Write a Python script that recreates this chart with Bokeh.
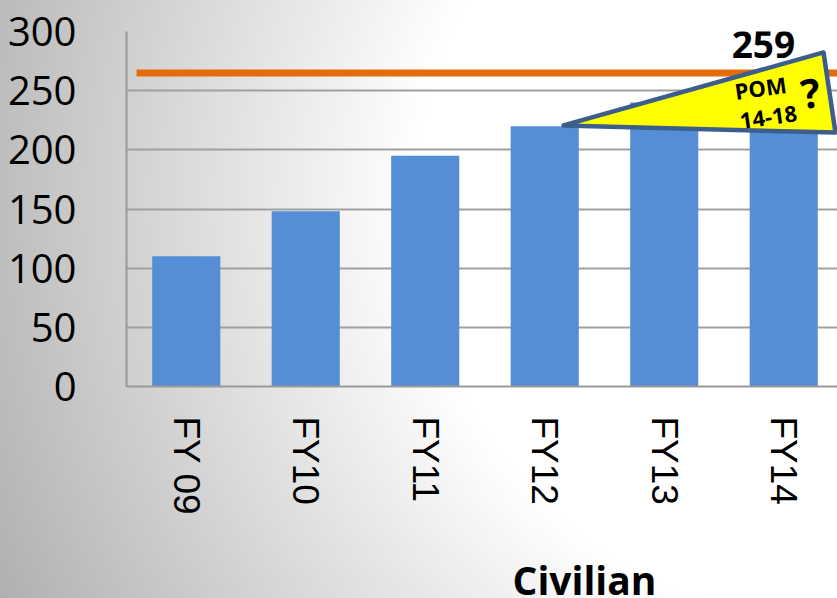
import numpy as np
from bokeh.plotting import figure
from bokeh.layouts import column
from bokeh.models import Range1d, FixedTicker, Label, Legend, LegendItem
from bokeh.embed import file_html
from bokeh.resources import INLINE

# ---- data ----
categories = ["FY 09", "FY10", "FY11", "FY12", "FY13", "FY14"]
civilian = [110, 148, 195, 220, 240, 250]
series_name = "Civilian"
target_value = 265
target_label = "259"
y_ticks = [0, 50, 100, 150, 200, 250, 300]
pom_x = [3.657, 5.833, 5.933]
pom_y = [220.6, 282.3, 214.6]
target_x = [0.084, 5.95]

x_pos = [i + 0.5 for i in range(len(categories))]

BAR_COLOR = "#558ED5"
GRAD = "#ffffff 0px, #ffffff 420px, #b0b0b0 927px"

# ---------------- main chart ----------------
p = figure(width=837, height=548,
           x_range=Range1d(0, 5.95), y_range=Range1d(0, 300),
           output_backend="svg", toolbar_location=None,
           min_border_left=126, min_border_right=0,
           min_border_top=31, min_border_bottom=162)

p.styles = {"background": "radial-gradient(circle at 837px 200px, " + GRAD + ")"}
p.border_fill_alpha = 0
p.background_fill_alpha = 0
p.outline_line_color = None

bars = p.vbar(x=x_pos, top=civilian, width=0.57, fill_color=BAR_COLOR, line_color=None)

p.line(target_x, [target_value] * 2, line_color="#E46C0A", line_width=7)

p.patch(pom_x, pom_y, fill_color="#FFFF00", line_color="#3B5E8C",
        line_width=4.5, line_join="round")

ang = np.deg2rad(8)
p.add_layout(Label(x=5.33, y=289, text=target_label, text_font="Open Sans",
                   text_font_style="bold", text_font_size="37px",
                   text_align="center", text_baseline="middle", text_color="black"))
p.add_layout(Label(x=5.305, y=252.7, text="POM", text_font="Open Sans", angle=ang,
                   text_font_style="bold", text_font_size="22px",
                   text_align="center", text_baseline="middle", text_color="black"))
p.add_layout(Label(x=5.372, y=227.3, text="14-18", text_font="Open Sans", angle=ang,
                   text_font_style="bold", text_font_size="22px",
                   text_align="center", text_baseline="middle", text_color="black"))
p.add_layout(Label(x=5.724, y=248.5, text="?", text_font="Open Sans", angle=ang,
                   text_font_style="bold", text_font_size="40px",
                   text_align="center", text_baseline="middle", text_color="black"))

p.xaxis.ticker = FixedTicker(ticks=x_pos)
p.xaxis.major_label_overrides = {x: c for x, c in zip(x_pos, categories)}
p.xaxis.major_label_orientation = -np.pi / 2
p.xaxis.major_label_text_font = "Liberation Sans"
p.xaxis.major_label_text_font_size = "37px"
p.xaxis.major_label_standoff = 30
p.xaxis.major_tick_out = 0
p.xaxis.major_label_text_color = "black"

p.yaxis.ticker = FixedTicker(ticks=y_ticks)
p.yaxis.major_label_text_font = "Open Sans"
p.yaxis.major_label_text_font_size = "40px"
p.yaxis.major_label_standoff = 44
p.yaxis.major_label_text_color = "black"

for ax in (p.xaxis, p.yaxis):
    ax.axis_line_color = "#999999"
    ax.axis_line_width = 2
    ax.major_tick_line_color = None
    ax.minor_tick_line_color = None

p.xgrid.grid_line_color = None
p.ygrid.grid_line_color = "#a0a0a0"
p.ygrid.grid_line_width = 2

# ---------------- legend strip ----------------
p2 = figure(width=837, height=50, x_range=Range1d(0, 1), y_range=Range1d(0, 1),
            output_backend="svg", toolbar_location=None,
            x_axis_location=None, y_axis_location=None, min_border=0)
p2.styles = {"background": "radial-gradient(circle at 837px -348px, " + GRAD + ")"}
p2.border_fill_alpha = 0
p2.background_fill_alpha = 0
p2.outline_line_color = None
p2.grid.visible = False

proxy = p2.vbar(x=[], top=[], width=0.57, fill_color=BAR_COLOR, line_color=None)

legend = Legend(items=[LegendItem(label=series_name, renderers=[proxy])],
                location=(344.6, -7.6), orientation="horizontal",
                glyph_width=34, glyph_height=34,
                label_standoff=8, padding=0, margin=0, spacing=0,
                border_line_color=None, background_fill_alpha=0,
                label_text_font="Open Sans", label_text_font_style="bold",
                label_text_font_size="39px", label_text_color="black")
p2.add_layout(legend)

layout = column(p, p2, spacing=0)

open("out.html", "w").write(file_html(layout, INLINE))
